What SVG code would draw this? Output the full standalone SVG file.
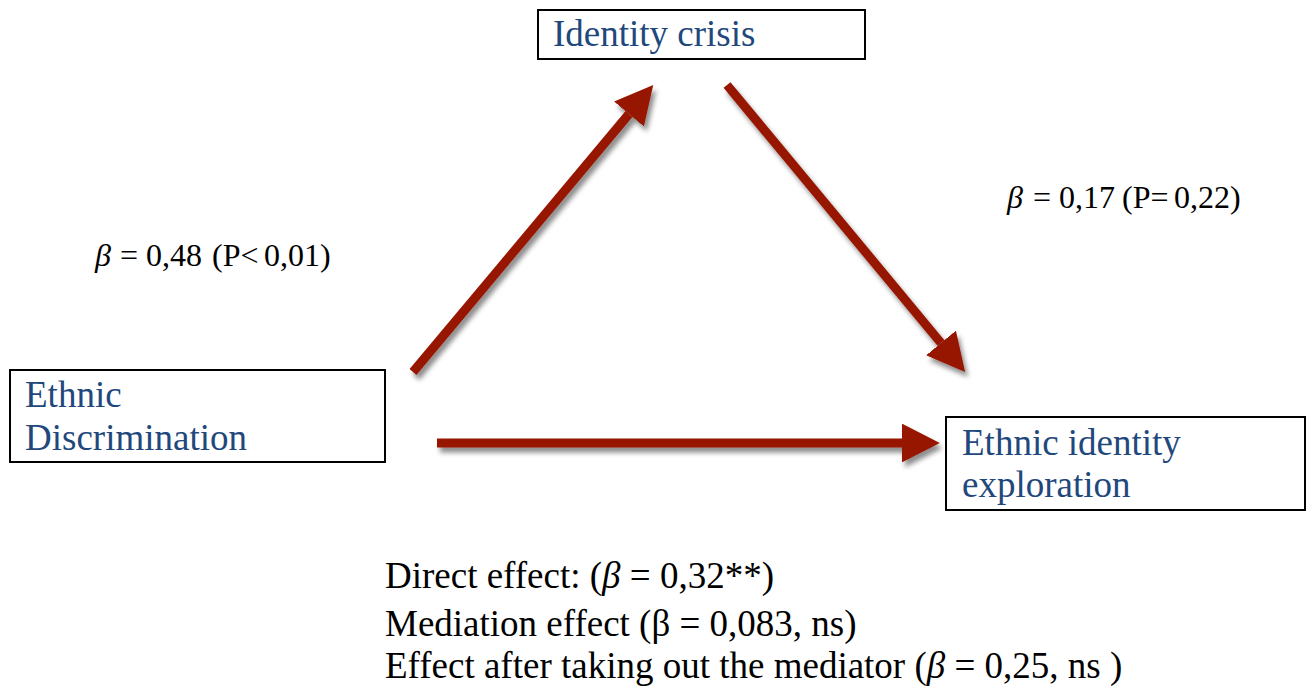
<svg xmlns="http://www.w3.org/2000/svg" width="1308" height="690" viewBox="0 0 1308 690">
<style>
.box{fill:#fff;stroke:#000;stroke-width:2}
.nt{font-family:"Liberation Serif","Times New Roman",serif;font-size:37px;fill:#1f487c}
.lb{font-family:"Liberation Serif","Times New Roman",serif;font-size:32px;fill:#000}
.bt{font-family:"Liberation Serif","Times New Roman",serif;font-size:37px;fill:#000}
.it{font-style:italic}
.arr{stroke:#961400;stroke-width:9;fill:none;marker-end:url(#head)}
</style>
<defs>
<marker id="head" viewBox="0 0 10 10" refX="0" refY="5" markerWidth="4.2" markerHeight="4.3" orient="auto" preserveAspectRatio="none">
<path d="M0,0 L10,5 L0,10 z" fill="#961400"/>
</marker>
<filter id="sh" x="-20%" y="-20%" width="140%" height="140%">
<feDropShadow dx="3" dy="5" stdDeviation="2.5" flood-color="#000" flood-opacity="0.45"/>
</filter>
</defs>
<rect width="1308" height="690" fill="#fff"/>
<g id="connectors" filter="url(#sh)">
<line class="arr" x1="413" y1="372" x2="629" y2="114"/>
<line class="arr" x1="727" y1="85" x2="941" y2="343"/>
<line class="arr" x1="437" y1="443" x2="902" y2="443"/>
</g>
<g id="node-identity-crisis">
<rect class="box" x="538" y="10" width="327" height="49"/>
<text class="nt" x="553" y="46">Identity crisis</text>
</g>
<g id="node-ethnic-discrimination">
<rect class="box" x="10" y="370" width="375" height="92"/>
<text class="nt" x="25" y="407">Ethnic</text>
<text class="nt" x="25" y="450">Discrimination</text>
</g>
<g id="node-ethnic-identity-exploration">
<rect class="box" x="946" y="417" width="359" height="93"/>
<text class="nt" x="962" y="455">Ethnic identity</text>
<text class="nt" x="962" y="497">exploration</text>
</g>
<g id="labels">
<text class="lb" y="266"><tspan class="it" x="95">β</tspan><tspan x="120">=</tspan><tspan x="146">0,48</tspan><tspan x="212">(P&lt;</tspan><tspan x="264">0,01)</tspan></text>
<text class="lb" y="208"><tspan class="it" x="1007">β</tspan><tspan x="1033">=</tspan><tspan x="1059">0,17</tspan><tspan x="1122">(P=</tspan><tspan x="1174">0,22)</tspan></text>
<text class="bt" x="385" y="588">Direct effect: (<tspan class="it">β</tspan> = 0,32**)</text>
<text class="bt" x="385" y="636">Mediation effect (β = 0,083, ns)</text>
<text class="bt" x="385" y="678">Effect after taking out the mediator (<tspan class="it">β</tspan> = 0,25, ns )</text>
</g>
</svg>
